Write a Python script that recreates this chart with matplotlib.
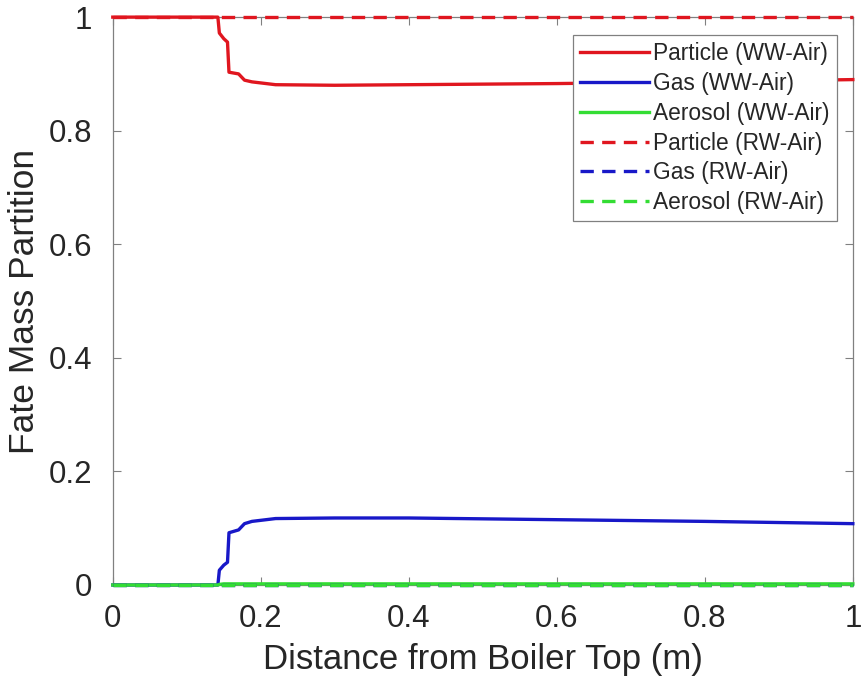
import numpy as np
import matplotlib.pyplot as plt

plt.rcParams['font.family'] = ['Liberation Sans', 'DejaVu Sans']

# distance from boiler top (m)
x_ww = [0, 0.142, 0.144, 0.15, 0.155, 0.157, 0.17, 0.178, 0.188, 0.22, 0.3, 0.4, 0.6, 0.8, 1.0]
particle_ww = [1, 1, 0.972, 0.962, 0.956, 0.903, 0.9, 0.889, 0.886, 0.881, 0.880, 0.881, 0.883, 0.886, 0.890]
gas_ww = [0, 0, 0.026, 0.035, 0.04, 0.092, 0.097, 0.108, 0.112, 0.117, 0.118, 0.118, 0.115, 0.112, 0.108]
aerosol_ww = [0, 0, 0.001, 0.002, 0.002, 0.002, 0.002, 0.002, 0.002, 0.002, 0.002, 0.002, 0.002, 0.002, 0.002]

x_rw = [0, 1.0]
particle_rw = [1, 1]
gas_rw = [0, 0]
aerosol_rw = [0, 0]

red = '#e0161f'
blue = '#1818c8'
green = '#33dd33'
dash = (0, (4, 2.5))

fig = plt.figure(figsize=(8.61, 6.85), dpi=100)
ax = fig.add_axes([0.131, 0.146, 0.8595, 0.829])

kw = dict(lw=2.4, clip_on=False, zorder=3)
ax.plot(x_ww, particle_ww, color=red, label='Particle (WW-Air)', **kw)
ax.plot(x_ww, gas_ww, color=blue, label='Gas (WW-Air)', **kw)
ax.plot(x_ww, aerosol_ww, color=green, label='Aerosol (WW-Air)', **kw)
ax.plot(x_rw, particle_rw, color=red, ls=dash, label='Particle (RW-Air)', **kw)
ax.plot(x_rw, gas_rw, color=blue, ls=dash, label='Gas (RW-Air)', **kw)
ax.plot(x_rw, aerosol_rw, color=green, ls=dash, label='Aerosol (RW-Air)', **kw)

ax.set_xlim(0, 1)
ax.set_ylim(0, 1)
ticks = [0, 0.2, 0.4, 0.6, 0.8, 1]
labels = ['0', '0.2', '0.4', '0.6', '0.8', '1']
ax.set_xticks(ticks, labels)
ax.set_yticks(ticks, labels)
ax.tick_params(direction='in', length=6, width=0.8, color='#808080',
               labelsize=22.5, labelcolor='#262626', top=True, right=True)
ax.tick_params(axis='x', pad=14)
ax.tick_params(axis='y', pad=15)
for s in ax.spines.values():
    s.set_color('#808080')
    s.set_linewidth(0.9)

ax.set_xlabel('Distance from Boiler Top (m)', fontsize=25, color='#262626', labelpad=6)
ax.set_ylabel('Fate Mass Partition', fontsize=25.5, color='#262626', labelpad=5)

leg = ax.legend(loc='upper right', bbox_to_anchor=(0.978, 0.968), borderaxespad=0,
                fontsize=16.4, handlelength=3.0, labelspacing=0.3, handletextpad=0.2,
                borderpad=0.3, fancybox=False, framealpha=1, edgecolor='#808080')
leg.get_frame().set_linewidth(0.9)
leg.set_zorder(5)
for t in leg.get_texts():
    t.set_color('#262626')

fig.savefig('out.png', dpi=100)
